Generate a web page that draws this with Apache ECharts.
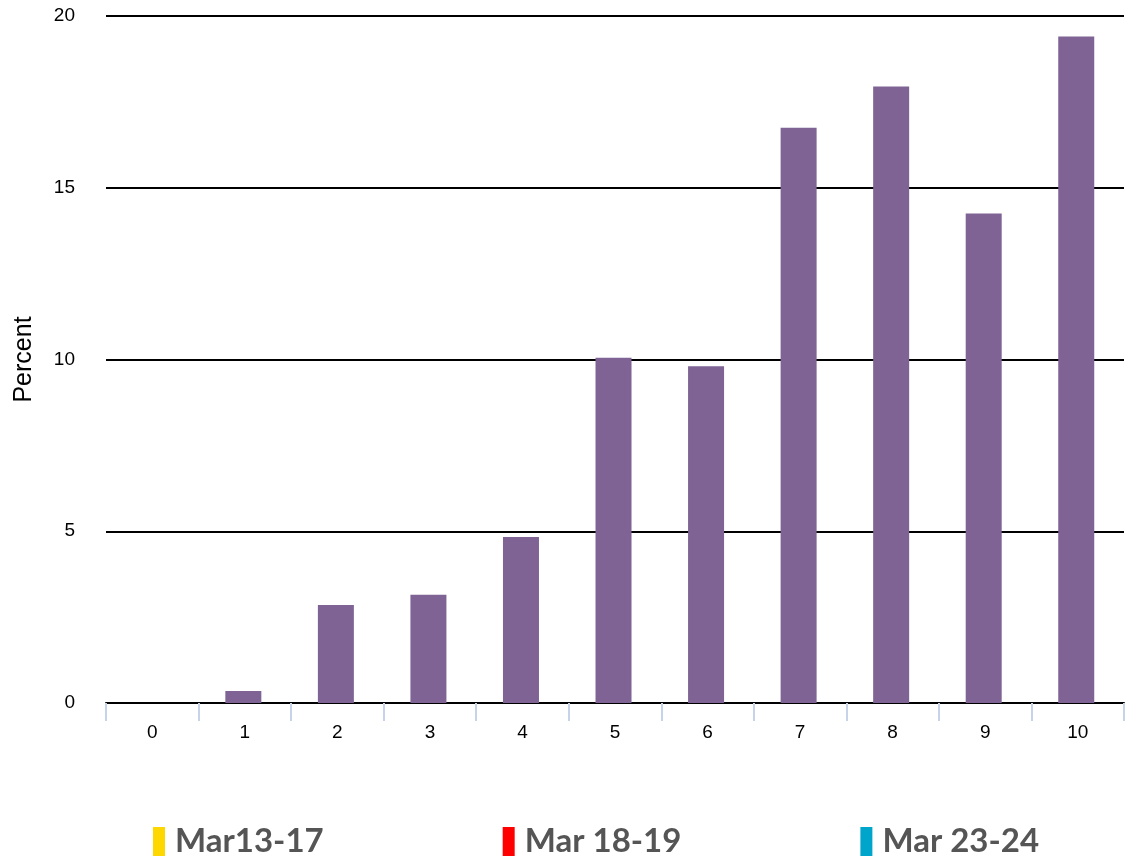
<!DOCTYPE html>
<html>
<head>
<meta charset="utf-8">
<script src="https://cdn.jsdelivr.net/npm/echarts@6/dist/echarts.min.js"></script>
<style>
  html, body { margin: 0; padding: 0; background: #fff; }
  #main { width: 1127px; height: 861px; }
</style>
</head>
<body>
<div id="main"></div>
<script>
// 数据
var categories = ['0', '1', '2', '3', '4', '5', '6', '7', '8', '9', '10']
var percents = [0, 0.35, 2.85, 3.15, 4.83, 10.05, 9.8, 16.75, 17.95, 14.25, 19.4]
var legendNames = ['Mar13-17', 'Mar 18-19', 'Mar 23-24']
var legendColors = ['#FFD700', '#FF0000', '#00A5CC']

var element = document.querySelector('#main')
var chart = echarts.init(element)

// 图例用的空系列
var legendSeries = legendNames.map((name, i) => {
    return {
        name: name,
        type: 'bar',
        data: [],
        itemStyle: { color: legendColors[i] },
    }
})

chart.setOption({
    animation: false,
    grid: {
        left: 106,
        right: 3,
        top: 16,
        bottom: 158,
        outerBoundsMode: 'none',
    },
    legend: {
        data: legendNames,
        left: 153,
        top: 825,
        padding: 0,
        icon: 'rect',
        itemWidth: 12,
        itemHeight: 29,
        itemGap: 179,
        textStyle: {
            fontFamily: 'Lato',
            fontWeight: 'bold',
            fontSize: 33,
            color: '#555555',
            padding: [0, 0, 0, 5],
        },
    },
    xAxis: {
        type: 'category',
        data: categories,
        axisLine: { lineStyle: { color: '#000', width: 2 } },
        axisTick: {
            show: true,
            length: 18,
            lineStyle: { color: '#C6D3EA', width: 2 },
        },
        axisLabel: {
            margin: 20,
            fontFamily: 'Liberation Sans',
            fontSize: 19,
            color: '#000',
        },
    },
    yAxis: {
        type: 'value',
        min: 0,
        max: 20,
        interval: 5,
        name: 'Percent',
        nameLocation: 'middle',
        nameGap: 69,
        nameTextStyle: {
            fontFamily: 'Liberation Sans',
            fontSize: 25,
            color: '#000',
        },
        axisLine: { show: false },
        axisTick: { show: false },
        axisLabel: {
            margin: 31,
            fontFamily: 'Liberation Sans',
            fontSize: 19,
            color: '#000',
        },
        splitLine: { lineStyle: { color: '#000', width: 1.8 } },
    },
    series: [
        {
            name: 'Percent',
            type: 'bar',
            data: percents,
            barWidth: 36,
            barGap: '-100%',
            itemStyle: { color: '#7E6394' },
        },
    ].concat(legendSeries),
})
</script>
</body>
</html>
